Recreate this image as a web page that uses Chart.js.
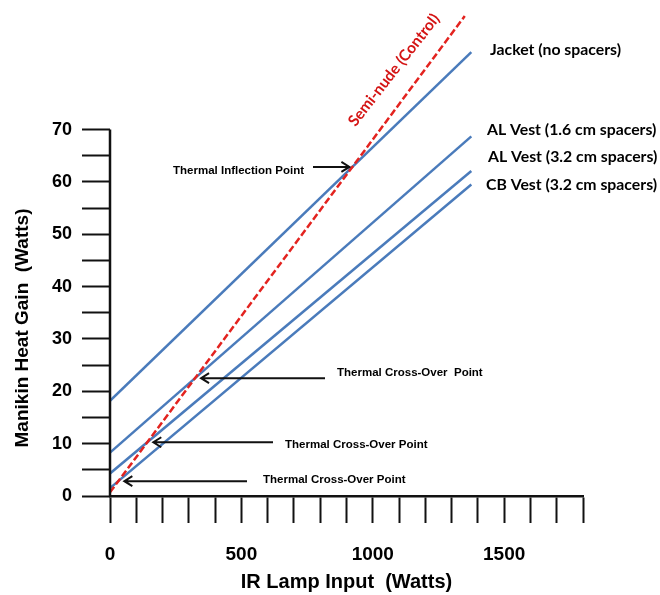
<!DOCTYPE html>
<html>
<head>
<meta charset="utf-8">
<script src="https://cdn.jsdelivr.net/npm/chart.js@4.4.1/dist/chart.umd.min.js"></script>
<style>
html, body { margin: 0; padding: 0; background: #fff; }
</style>
</head>
<body>
<canvas id="myChart" width="660" height="595"></canvas>
<script>
// fitted lines: start and end point of each series
var seriesNames = ['Semi-nude (Control)', 'Jacket (no spacers)', 'AL Vest (1.6 cm spacers)', 'AL Vest (3.2 cm spacers)', 'CB Vest (3.2 cm spacers)'];
var lampStart = [0, 0, 0, 0, 0];
var lampEnd = [1350, 1375, 1375, 1375, 1375];
var gainStart = [0.7, 18.2, 8.3, 4.3, 1.5];
var gainEnd = [91.7, 84.8, 68.7, 62.1, 59.5];

var xTickLabels = [0, 500, 1000, 1500];
var yTickLabels = [0, 10, 20, 30, 40, 50, 60, 70];

// where each vest line crosses the control line
var markNames = ['Thermal Inflection Point', 'Thermal Cross-Over  Point', 'Thermal Cross-Over Point', 'Thermal Cross-Over Point'];
var markSeries = [1, 2, 3, 4];

function crossing(i) {
	var b0 = (gainEnd[0] - gainStart[0]) / (lampEnd[0] - lampStart[0]);
	var bi = (gainEnd[i] - gainStart[i]) / (lampEnd[i] - lampStart[i]);
	var x = (gainStart[i] - gainStart[0]) / (b0 - bi);
	return { x: x, y: gainStart[0] + b0 * x };
}

function arrow(ctx, x1, y, x2) {
	var d = x2 > x1 ? -1 : 1;
	ctx.beginPath();
	ctx.moveTo(x1, y);
	ctx.lineTo(x2, y);
	ctx.moveTo(x2 + d * 8, y - 5);
	ctx.lineTo(x2, y);
	ctx.lineTo(x2 + d * 8, y + 5);
	ctx.stroke();
}

var annotate = {
	id: 'annotate',
	afterDatasetsDraw: function(chart) {
		var ctx = chart.ctx, xs = chart.scales.x, ys = chart.scales.y;
		ctx.save();

		// y axis line, only up to 70
		ctx.strokeStyle = '#111';
		ctx.lineWidth = 2.5;
		ctx.beginPath();
		ctx.moveTo(xs.getPixelForValue(0), ys.getPixelForValue(70));
		ctx.lineTo(xs.getPixelForValue(0), ys.getPixelForValue(0));
		ctx.stroke();

		// y axis title
		ctx.fillStyle = '#000';
		ctx.font = 'bold 19px "Liberation Sans", Arial, sans-serif';
		ctx.textAlign = 'center';
		ctx.textBaseline = 'middle';
		ctx.save();
		ctx.translate(23, 328);
		ctx.rotate(-Math.PI / 2);
		ctx.fillText('Manikin Heat Gain  (Watts)', 0, 0);
		ctx.restore();

		// series names on the right
		ctx.font = 'bold 15.8px Lato, "Noto Sans", sans-serif';
		ctx.textAlign = 'left';
		var nameX = [0, 490, 487, 488, 486];
		var nameY = [0, 50, 130, 157, 185];
		for (var i = 1; i < seriesNames.length; i++) {
			ctx.fillText(seriesNames[i], nameX[i], nameY[i]);
		}

		// control label along the red line
		ctx.save();
		ctx.fillStyle = '#d41414';
		ctx.font = 'bold 15.5px Lato, "Noto Sans", sans-serif';
		ctx.textAlign = 'center';
		ctx.translate(394, 70);
		ctx.rotate(-52 * Math.PI / 180);
		ctx.fillText(seriesNames[0], 0, 0);
		ctx.restore();

		// crossing points with arrows
		ctx.font = 'bold 11.5px "Liberation Sans", Arial, sans-serif';
		ctx.lineWidth = 2;
		ctx.strokeStyle = '#111';
		var textX = [173, 337, 285, 263];
		var textY = [171, 373, 445, 480];
		var tailX = [313, 325, 273, 247];
		for (var k = 0; k < markNames.length; k++) {
			var p = crossing(markSeries[k]);
			var px = xs.getPixelForValue(p.x), py = ys.getPixelForValue(p.y);
			if (k === 0) {
				arrow(ctx, tailX[k], py, px - 3);
			} else {
				arrow(ctx, tailX[k], py, px + 6);
			}
			ctx.textAlign = 'left';
			ctx.fillStyle = '#000';
			ctx.fillText(markNames[k], textX[k], textY[k]);
		}
		ctx.restore();
	}
};

var datasets = [];
for (var i = 0; i < seriesNames.length; i++) {
	var red = i === 0;
	datasets.push({
		label: seriesNames[i],
		data: [{ x: lampStart[i], y: gainStart[i] }, { x: lampEnd[i], y: gainEnd[i] }],
		borderColor: red ? '#e3231f' : '#4a7bbb',
		borderWidth: 2.5,
		borderDash: red ? [7, 3] : [],
		pointRadius: 0,
		fill: false,
		tension: 0,
		order: red ? 0 : 1
	});
}

var boldTick = function(size) {
	return { family: '"Liberation Sans", Arial, sans-serif', size: size, weight: 'bold' };
};

var ctx = document.getElementById('myChart').getContext('2d');
var chart = new Chart(ctx, {
	type: 'line',
	data: { datasets: datasets },
	options: {
		responsive: false,
		animation: false,
		devicePixelRatio: 1,
		layout: { padding: { top: 4, right: 77, bottom: 0, left: 0 } },
		plugins: { legend: { display: false }, tooltip: { enabled: false } },
		scales: {
			x: {
				type: 'linear',
				min: 0,
				max: 1800,
				afterFit: function(s) { s.height = 99; s.paddingLeft = 0; s.paddingRight = 0; },
				ticks: {
					stepSize: 100,
					autoSkip: false,
					maxRotation: 0,
					padding: 20,
					color: '#000',
					font: boldTick(19),
					callback: function(v) { return xTickLabels.indexOf(v) >= 0 ? String(v) : ''; }
				},
				grid: { drawOnChartArea: false, drawTicks: true, tickLength: 27, tickColor: '#111', tickWidth: 2 },
				border: { display: true, color: '#111', width: 2.5 },
				title: { display: true, text: 'IR Lamp Input  (Watts)', color: '#000', font: boldTick(20), padding: { top: 0, bottom: 1 } }
			},
			y: {
				type: 'linear',
				min: 0,
				max: 94,
				afterFit: function(s) { s.width = 110; s.paddingTop = 0; s.paddingBottom = 0; },
				afterBuildTicks: function(s) { s.ticks = s.ticks.filter(function(t) { return t.value <= 70; }); },
				ticks: {
					stepSize: 5,
					autoSkip: false,
					padding: 10,
					color: '#000',
					font: boldTick(18),
					callback: function(v) { return yTickLabels.indexOf(v) >= 0 ? String(v) : ''; }
				},
				grid: { drawOnChartArea: false, drawTicks: true, tickLength: 28, tickColor: '#111', tickWidth: 2 },
				border: { display: false }
			}
		}
	},
	plugins: [annotate]
});
</script>
</body>
</html>
